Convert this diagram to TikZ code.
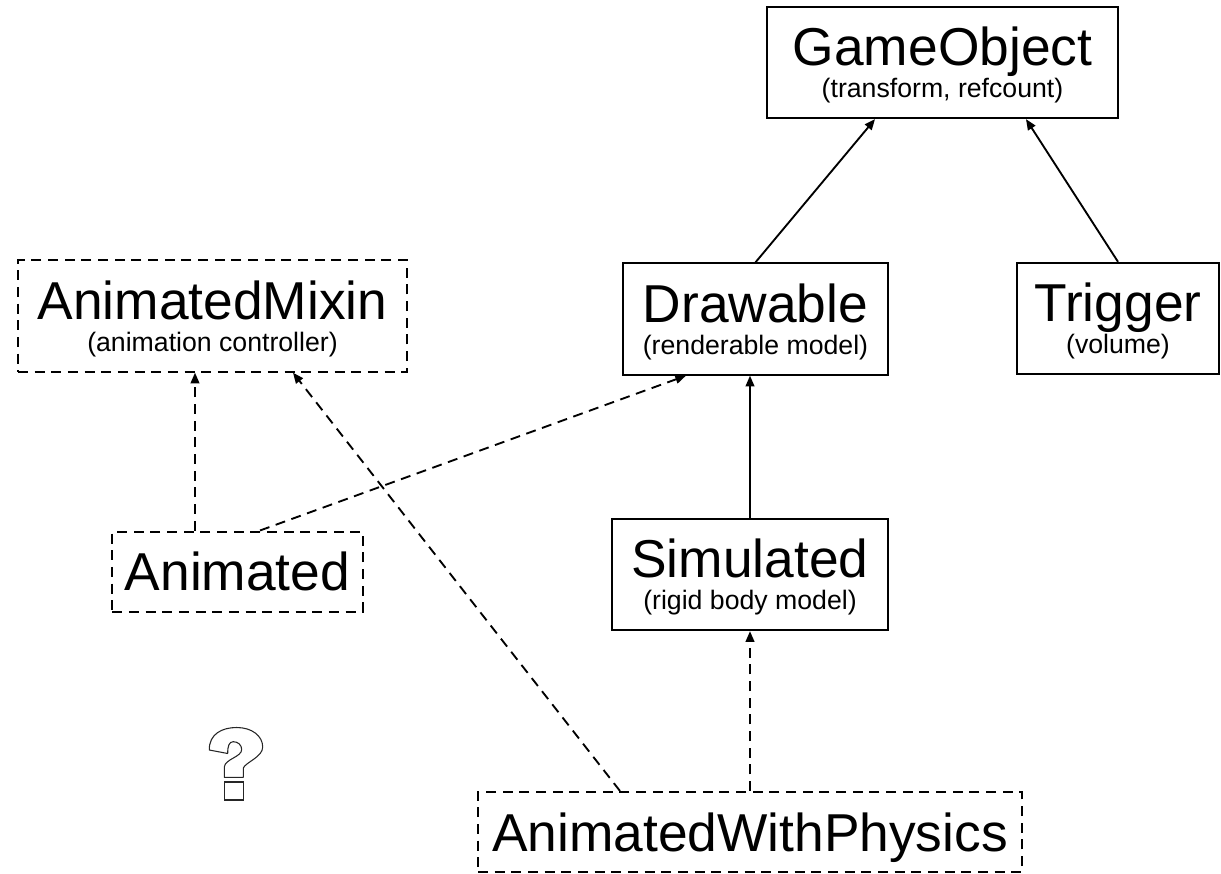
\documentclass[tikz,border=0pt]{standalone}
\usepackage{fontspec}
\setmainfont{Liberation Sans}
\usepackage{tikz}
\usetikzlibrary{arrows.meta, calc}

\newcommand{\classlabel}[2]{\vbox{\kern4pt\baselineskip=24pt\lineskiplimit=-\maxdimen
    \halign{\hfil##\hfil\cr\fontsize{40}{48}\selectfont #1\cr\fontsize{20}{24}\selectfont #2\cr}}}

\begin{document}
\begin{tikzpicture}[x=0.75pt, y=-0.75pt,
        cls/.style={draw, line width=1.5pt, inner sep=0pt, minimum width=#1, minimum height=83.5pt},
        mixin/.style={cls=#1, dash pattern=on 7.5pt off 5pt},
        single/.style={minimum height=60pt, font=\fontsize{40}{48}\selectfont, text height=28.6pt, text depth=0pt},
        isa/.style={line width=1.4pt, -{Triangle[length=8pt, width=6.5pt]}},
        uses/.style={isa, dash pattern=on 7.5pt off 5pt}]
    \useasboundingbox (0,0) rectangle (1221,874);

    \node[cls=263pt] (gameobject) at (942.5,62.5) {\classlabel{GameObject}{(transform, refcount)}};
    \node[cls=199pt] (drawable) at (755.5,319) {\classlabel{Drawable}{(renderable model)}};
    \node[cls=151.5pt] (trigger) at (1118,318.5) {\classlabel{Trigger}{(volume)}};
    \node[mixin=292pt] (animixin) at (212.5,316) {\classlabel{AnimatedMixin}{(animation controller)}};
    \node[cls=207pt] (simulated) at (750,574.5) {\classlabel{Simulated}{(rigid body model)}};
    \node[mixin=188pt, single] (animated) at (237.5,571.5) {Animated};
    \node[mixin=408pt, single] (awp) at (750,832) {AnimatedWithPhysics};

    \coordinate (animatedtop) at ($(animated.north)+(-42.5,0)$);

    \draw[isa] (drawable.north) -- ($(gameobject.south)+(-67.5,0)$);
    \draw[isa] (trigger.north) -- ($(gameobject.south)+(83.5,0)$);
    \draw[isa] (simulated.north) -- (simulated.north |- drawable.south);
    \draw[uses] (awp.north) -- (awp.north |- simulated.south);
    \draw[uses] ($(awp.north)+(-130,0)$) -- ($(animixin.south)+(80.5,0)$);
    \draw[uses] (animatedtop) -- (animatedtop |- animixin.south);
    \draw[uses] ($(animated.north)+(22.5,0)$) -- ($(drawable.south)+(-69.5,0)$);

    \draw[line width=0.8pt, black!85, line join=round]
        (209.3,750) .. controls (209,734) and (222,727.5) .. (236.7,727.5)
        .. controls (252,727.5) and (262.7,736) .. (262.7,747)
        .. controls (262.7,757) and (246,762) .. (243.3,768)
        -- (243.3,777.3) -- (224.3,777.3) -- (224.3,767)
        .. controls (225,759) and (241.7,757) .. (241.7,749.5)
        .. controls (241.7,745) and (238,741.7) .. (233.3,741.7)
        .. controls (229,741.7) and (227.7,746) .. (227.7,753.5)
        -- cycle;
    \draw[line width=0.8pt, black!85] (224.3,782) rectangle (243.3,800);
\end{tikzpicture}
\end{document}
